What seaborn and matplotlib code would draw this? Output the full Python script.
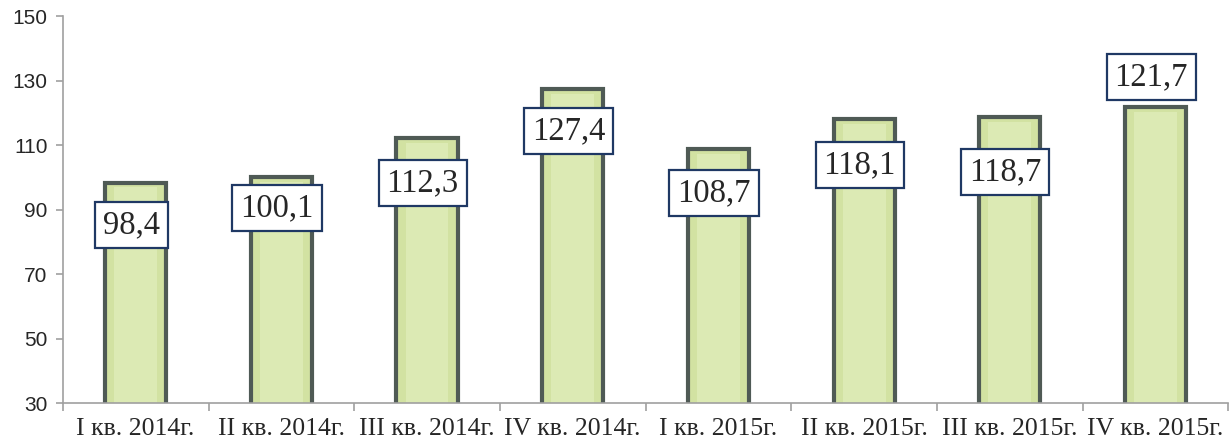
import matplotlib
matplotlib.use("Agg")
import matplotlib.pyplot as plt
import seaborn as sns
import numpy as np
import pandas as pd

# data
quarters = ["I кв. 2014г.", "II кв. 2014г.", "III кв. 2014г.", "IV кв. 2014г.",
            "I кв. 2015г.", "II кв. 2015г.", "III кв. 2015г.", "IV кв. 2015г."]
values = [98.4, 100.1, 112.3, 127.4, 108.7, 118.1, 118.7, 121.7]
value_labels = ["98,4", "100,1", "112,3", "127,4", "108,7", "118,1", "118,7", "121,7"]

# label placement relative to the bar top (data units)
label_offsets = [-13.2, -9.6, -14.0, -13.0, -13.6, -14.3, -17.0, 9.4]

df = pd.DataFrame({"quarter": quarters, "value": values})

sns.set_style("white")
plt.rcParams["font.family"] = ["Liberation Serif", "DejaVu Serif"]

fig = plt.figure(figsize=(12.32, 4.48), dpi=100)
ax = fig.add_axes([0.051, 0.1, 0.946, 0.864])

sns.barplot(data=df, x="quarter", y="value", ax=ax, width=0.42,
            color="#d2e2a2", edgecolor="#4f5a55", linewidth=3, saturation=1)

# lighter inner face to hint at the bevel
for p in ax.patches:
    x0, w = p.get_x(), p.get_width()
    ax.bar(x0 + w / 2, p.get_height() - 1.5, width=w * 0.7, bottom=0,
           color="#dceab4", linewidth=0, zorder=p.get_zorder() + 0.1)

for i, (v, lab, off) in enumerate(zip(values, value_labels, label_offsets)):
    ax.text(i - 0.03, v + off, lab, ha="center", va="center", fontsize=23.5,
            family=["Liberation Serif"], zorder=5,
            bbox=dict(boxstyle="square,pad=0.24", fc="white", ec="#1f3864", lw=1.6))

ax.set_ylim(30, 150)
ax.set_yticks(np.arange(30, 151, 20))
ax.set_xlim(-0.5, len(quarters) - 0.5)
ax.set_xlabel("")
ax.set_ylabel("")

for s in ["top", "right"]:
    ax.spines[s].set_visible(False)
for s in ["left", "bottom"]:
    ax.spines[s].set_color("#a0a0a0")
    ax.spines[s].set_linewidth(1.2)

ax.tick_params(axis="y", left=True, direction="out", length=5, color="#a0a0a0", width=1.2,
               labelsize=15, pad=6)
for t in ax.get_yticklabels():
    t.set_family(["Liberation Sans"])

ax.set_xticks(np.arange(len(quarters)))
ax.set_xticklabels(quarters, fontsize=18.5)
ax.tick_params(axis="x", which="major", bottom=True, length=0, pad=11)
ax.set_xticks(np.arange(-0.5, len(quarters)), minor=True)
ax.tick_params(axis="x", which="minor", bottom=True, direction="out", length=6,
               color="#a0a0a0", width=1.2)

fig.savefig("out.png", dpi=100)
